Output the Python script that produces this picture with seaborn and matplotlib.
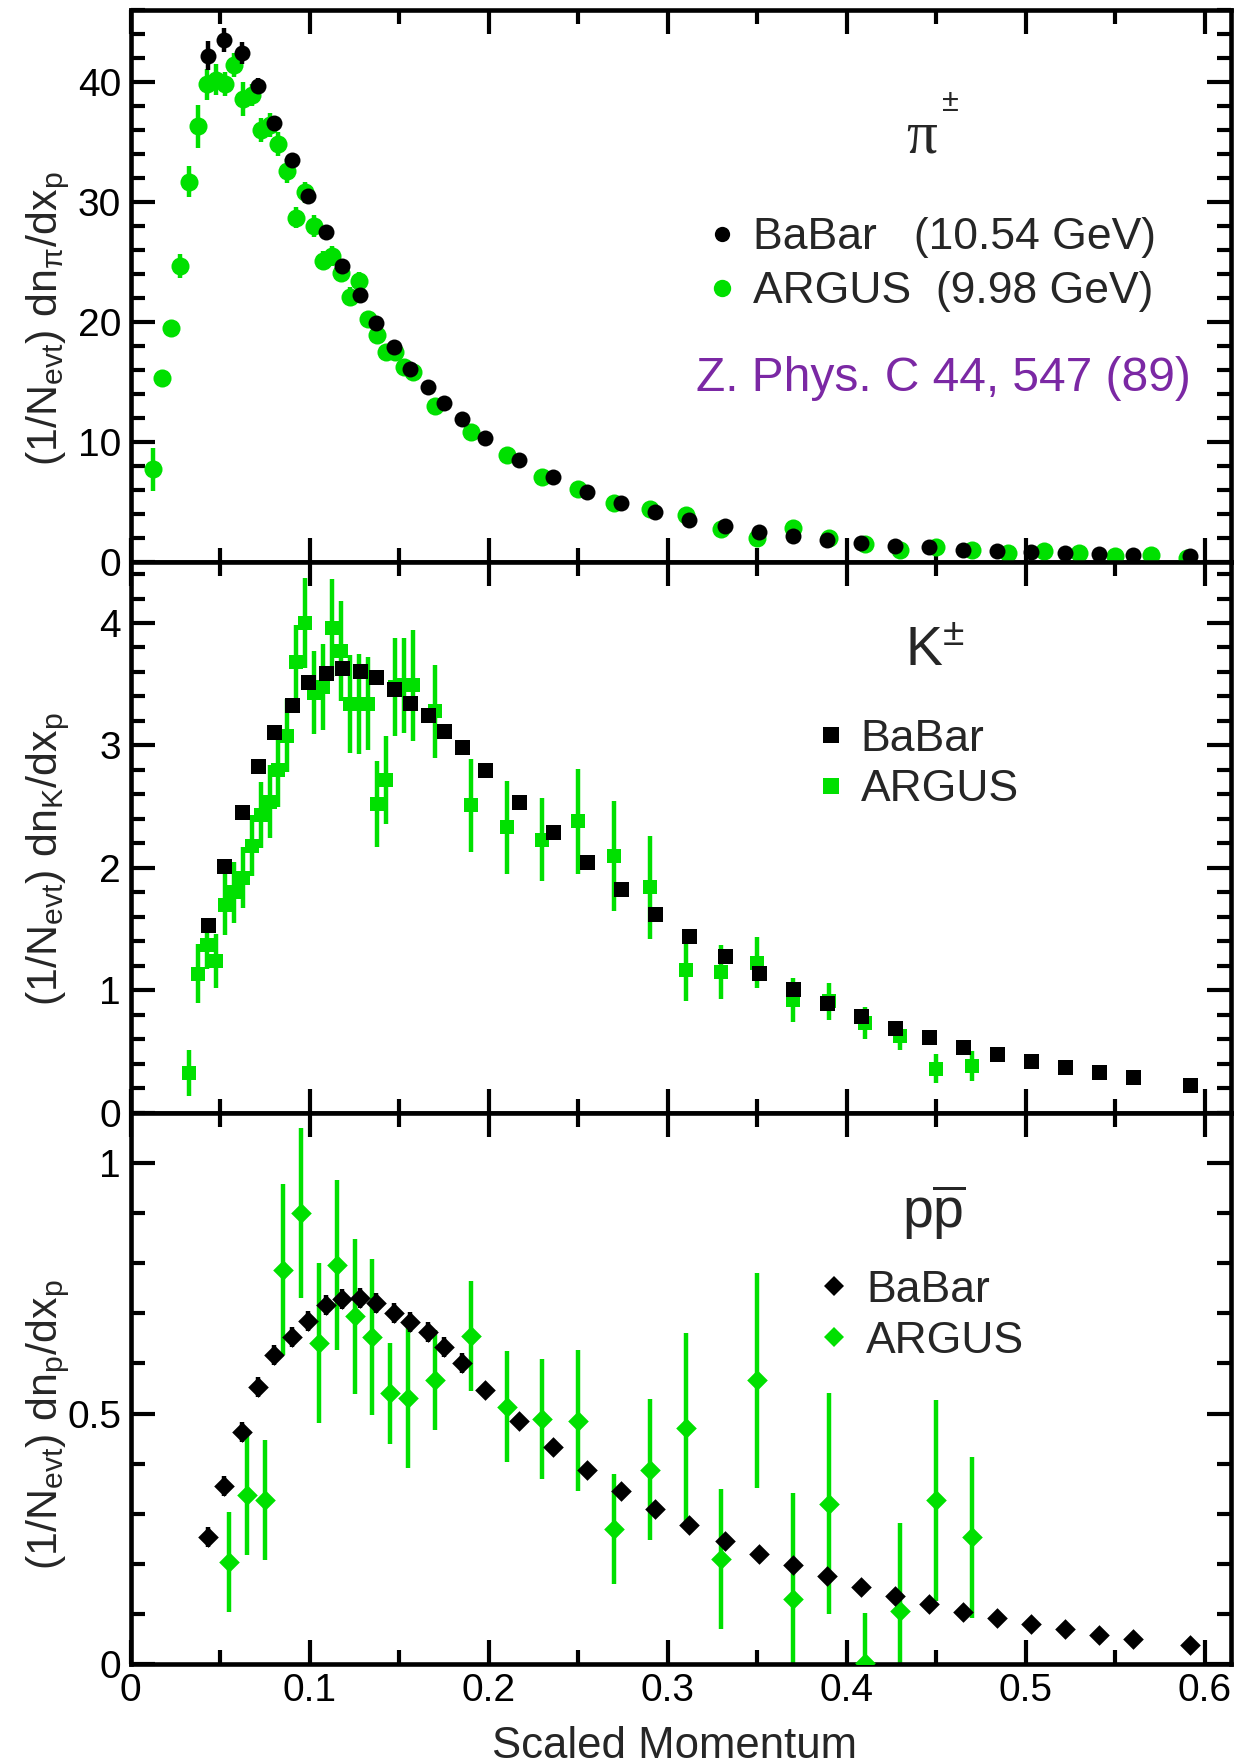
import matplotlib
matplotlib.use("Agg")
import matplotlib.pyplot as plt
import seaborn as sns
import numpy as np
import pandas as pd
from matplotlib.lines import Line2D
from matplotlib.ticker import MultipleLocator, FuncFormatter

# ---------------- data ----------------
x_babar = [0.043, 0.052, 0.062, 0.071, 0.080, 0.090, 0.099, 0.109, 0.118, 0.128,
           0.137, 0.147, 0.156, 0.166, 0.175, 0.185, 0.198, 0.217, 0.236, 0.255,
           0.274, 0.293, 0.312, 0.332, 0.351, 0.370, 0.389, 0.408, 0.427, 0.446,
           0.465, 0.484, 0.503, 0.522, 0.541, 0.560, 0.592]

pi_babar = [42.2, 43.5, 42.4, 39.7, 36.6, 33.5, 30.5, 27.5, 24.7, 22.2,
            19.9, 17.9, 16.1, 14.6, 13.2, 11.9, 10.3, 8.5, 7.05, 5.85,
            4.9, 4.15, 3.5, 2.95, 2.5, 2.15, 1.8, 1.55, 1.35, 1.2,
            1.0, 0.9, 0.8, 0.72, 0.65, 0.58, 0.45]
pi_babar_err = [1.2, 1.0, 0.9, 0.6, 0.4, 0.3, 0.3, 0.25, 0.2, 0.2,
                0.2, 0.15, 0.15, 0.15, 0.1, 0.1, 0.1, 0.1, 0.1, 0.1,
                0.1, 0.1, 0.1, 0.1, 0.1, 0.1, 0.1, 0.1, 0.1, 0.1,
                0.1, 0.1, 0.1, 0.1, 0.1, 0.1, 0.1]

k_babar = [1.53, 2.015, 2.46, 2.83, 3.11, 3.33, 3.52, 3.59, 3.63, 3.61,
           3.56, 3.46, 3.35, 3.25, 3.12, 2.99, 2.80, 2.54, 2.29, 2.05,
           1.83, 1.62, 1.44, 1.28, 1.14, 1.01, 0.90, 0.79, 0.69, 0.62,
           0.54, 0.48, 0.42, 0.37, 0.33, 0.29, 0.23]
k_babar_err = [0.04] * 37

p_babar = [0.253, 0.356, 0.463, 0.552, 0.616, 0.653, 0.684, 0.716, 0.729, 0.731,
           0.720, 0.701, 0.683, 0.663, 0.633, 0.600, 0.546, 0.486, 0.434, 0.387,
           0.346, 0.310, 0.277, 0.245, 0.220, 0.198, 0.175, 0.154, 0.137, 0.120,
           0.105, 0.093, 0.081, 0.070, 0.059, 0.051, 0.039]
p_babar_err = [0.02] * 16 + [0.01] * 21

x_argus_pi = [0.0125, 0.0175, 0.0225, 0.0275, 0.0325, 0.0375, 0.0425, 0.0475, 0.0525, 0.0575,
              0.0625, 0.0675, 0.0725, 0.0775, 0.0825, 0.0875, 0.0925, 0.0975, 0.1025, 0.1075,
              0.1125, 0.1175, 0.1225, 0.1275, 0.1325, 0.1375, 0.1425, 0.1475, 0.1525, 0.1575,
              0.17, 0.19, 0.21, 0.23, 0.25, 0.27, 0.29, 0.31, 0.33, 0.35,
              0.37, 0.39, 0.41, 0.43, 0.45, 0.47, 0.49, 0.51, 0.53, 0.55, 0.57, 0.59]
pi_argus = [7.7, 15.3, 19.5, 24.7, 31.7, 36.3, 39.8, 40.2, 39.8, 41.4,
            38.6, 38.9, 36.0, 36.4, 34.8, 32.6, 28.7, 30.8, 28.0, 25.1,
            25.5, 24.1, 22.1, 23.4, 20.2, 18.9, 17.5, 17.5, 16.2, 15.8,
            13.0, 10.8, 8.9, 7.1, 6.06, 4.9, 4.4, 3.9, 2.7, 1.95,
            2.8, 1.97, 1.45, 1.0, 1.27, 0.97, 0.76, 0.9, 0.7, 0.45, 0.55, 0.3]
pi_argus_err = [1.8, 0.4, 0.5, 1.0, 1.3, 1.8, 1.3, 1.3, 1.0, 1.0,
                1.4, 0.9, 1.0, 1.0, 1.0, 1.0, 0.9, 0.9, 0.9, 0.8,
                0.8, 0.8, 0.8, 0.8, 0.6, 0.6, 0.6, 0.6, 0.5, 0.5,
                0.4, 0.4, 0.3, 0.3, 0.3, 0.3, 0.3, 0.3, 0.3, 0.3,
                0.3, 0.2, 0.2, 0.2, 0.2, 0.2, 0.2, 0.2, 0.2, 0.2, 0.2, 0.2]

x_argus_k = [0.0325, 0.0375, 0.0425, 0.0475, 0.0525, 0.0575, 0.0625, 0.0675, 0.0725, 0.0775,
             0.0825, 0.0875, 0.0925, 0.0975, 0.1025, 0.1075, 0.1125, 0.1175, 0.1225, 0.1275,
             0.1325, 0.1375, 0.1425, 0.1475, 0.1525, 0.1575,
             0.17, 0.19, 0.21, 0.23, 0.25, 0.27, 0.29, 0.31, 0.33, 0.35,
             0.37, 0.39, 0.41, 0.43, 0.45, 0.47]
k_argus = [0.326, 1.134, 1.37, 1.24, 1.70, 1.80, 1.92, 2.18, 2.43, 2.54,
           2.80, 3.08, 3.68, 4.00, 3.43, 3.48, 3.96, 3.77, 3.34, 3.34,
           3.34, 2.52, 2.72, 3.48, 3.49, 3.49,
           3.28, 2.51, 2.33, 2.23, 2.38, 2.10, 1.84, 1.165, 1.15, 1.225,
           0.92, 0.91, 0.73, 0.63, 0.36, 0.38]
k_argus_err = [0.19, 0.24, 0.20, 0.22, 0.25, 0.25, 0.25, 0.25, 0.27, 0.30,
               0.30, 0.30, 0.30, 0.37, 0.34, 0.35, 0.40, 0.41, 0.40, 0.41,
               0.38, 0.35, 0.36, 0.40, 0.39, 0.45,
               0.38, 0.38, 0.38, 0.34, 0.43, 0.45, 0.42, 0.25, 0.22, 0.21,
               0.18, 0.15, 0.13, 0.12, 0.12, 0.12]

x_argus_p = [0.055, 0.065, 0.075, 0.085, 0.095, 0.105, 0.115, 0.125, 0.135, 0.145,
             0.155, 0.17, 0.19, 0.21, 0.23, 0.25, 0.27, 0.29, 0.31, 0.33,
             0.35, 0.37, 0.39, 0.41, 0.43, 0.45, 0.47]
p_argus = [0.204, 0.338, 0.328, 0.787, 0.900, 0.641, 0.796, 0.694, 0.653, 0.540,
           0.531, 0.567, 0.655, 0.514, 0.489, 0.486, 0.270, 0.388, 0.471, 0.210,
           0.566, 0.131, 0.320, 0.003, 0.106, 0.327, 0.253]
p_argus_err = [0.10, 0.12, 0.12, 0.17, 0.17, 0.16, 0.17, 0.155, 0.156, 0.10,
               0.14, 0.10, 0.11, 0.11, 0.12, 0.14, 0.11, 0.14, 0.19, 0.14,
               0.215, 0.21, 0.22, 0.10, 0.175, 0.20, 0.16]

x_ticks = [0, 0.1, 0.2, 0.3, 0.4, 0.5, 0.6]
legend_labels_pi = ["BaBar   (10.54 GeV)", "ARGUS  (9.98 GeV)"]
legend_labels = ["BaBar", "ARGUS"]
reference_text = "Z. Phys. C 44, 547 (89)"

# ---------------- style ----------------
sns.set_theme(style="ticks")
plt.rcParams['font.family'] = ['Liberation Sans', 'DejaVu Sans']
plt.rcParams['mathtext.default'] = 'regular'

GREEN = '#00e000'
BLACK = '#000000'
PURPLE = '#7b28a4'
TICK_FS = 28
LEG_FS = 32

fig = plt.figure(figsize=(12.6, 17.61), dpi=100)
left, width = 0.1038, 0.8734
ax1 = fig.add_axes([left, 0.68098, width, 0.31334])
ax2 = fig.add_axes([left, 0.36814, width, 0.31284], sharex=ax1)
ax3 = fig.add_axes([left, 0.05497, width, 0.31317], sharex=ax1)


def panel(ax, xb, yb, eb, xa, ya, ea, marker, s_b, s_a):
    dfa = pd.DataFrame({'x': xa, 'y': ya})
    dfb = pd.DataFrame({'x': xb, 'y': yb})
    ax.errorbar(xa, ya, yerr=ea, fmt='none', ecolor=GREEN, elinewidth=3.2,
                capsize=0, zorder=2)
    sns.scatterplot(data=dfa, x='x', y='y', ax=ax, marker=marker, s=s_a,
                    color=GREEN, linewidth=0, zorder=3, legend=False)
    ax.errorbar(xb, yb, yerr=eb, fmt='none', ecolor=BLACK, elinewidth=3.2,
                capsize=0, zorder=4)
    sns.scatterplot(data=dfb, x='x', y='y', ax=ax, marker=marker, s=s_b,
                    color=BLACK, linewidth=0, zorder=5, legend=False)


panel(ax1, x_babar, pi_babar, pi_babar_err, x_argus_pi, pi_argus, pi_argus_err,
      'o', 11.5 ** 2, 13.0 ** 2)
panel(ax2, x_babar, k_babar, k_babar_err, x_argus_k, k_argus, k_argus_err,
      's', 10.8 ** 2, 10.5 ** 2)
panel(ax3, x_babar, p_babar, p_babar_err, x_argus_p, p_argus, p_argus_err,
      'D', 10.5 ** 2, 10.5 ** 2)

fmt = FuncFormatter(lambda v, p: '%g' % v)
for ax, (ymax, major, minor) in zip([ax1, ax2, ax3],
                                    [(46.0, 10, 2), (4.5, 1, 0.2), (1.10, 0.5, 0.1)]):
    ax.set_xlim(0, 0.6148)
    ax.set_ylim(0, ymax)
    ax.xaxis.set_major_locator(MultipleLocator(0.1))
    ax.xaxis.set_minor_locator(MultipleLocator(0.05))
    ax.yaxis.set_major_locator(MultipleLocator(major))
    ax.yaxis.set_minor_locator(MultipleLocator(minor))
    ax.xaxis.set_major_formatter(fmt)
    ax.yaxis.set_major_formatter(fmt)
    ax.tick_params(which='both', direction='in', top=True, right=True,
                   width=3.0, colors='black')
    ax.tick_params(which='major', length=17, labelsize=TICK_FS, pad=7)
    ax.tick_params(axis='x', which='major', pad=6)
    ax.tick_params(which='minor', length=10)
    for sp in ax.spines.values():
        sp.set_linewidth(3.3)
        sp.set_color('black')
    ax.set_xlabel('')
    ax.set_ylabel('')
    ax.set_facecolor('white')

for ax in (ax1, ax2):
    plt.setp(ax.get_xticklabels(), visible=False)

ax3.set_xticks(x_ticks)
ax3.set_xlabel('Scaled Momentum', fontsize=31.5)
ax3.xaxis.set_label_coords(0.4945, -0.112)

YL_FS = 31
ax1.set_ylabel(r'(1/N$_{evt}$) dn$_{π}$/dx$_{p}$', fontsize=YL_FS)
ax2.set_ylabel(r'(1/N$_{evt}$) dn$_{K}$/dx$_{p}$', fontsize=YL_FS)
ax3.set_ylabel(r'(1/N$_{evt}$) dn$_{p}$/dx$_{p}$', fontsize=YL_FS)
ax1.yaxis.set_label_coords(-0.053, 0.44)
ax2.yaxis.set_label_coords(-0.053, 0.46)
ax3.yaxis.set_label_coords(-0.053, 0.435)

# particle labels
ax1.text(0.719, 0.768, 'π', transform=ax1.transAxes, fontsize=44,
         family=['Liberation Serif', 'DejaVu Serif'], ha='center', va='center')
ax1.text(0.745, 0.832, '±', transform=ax1.transAxes, fontsize=22,
         ha='center', va='center')
ax2.text(0.731, 0.836, r'K$^{\pm}$', transform=ax2.transAxes, fontsize=40,
         ha='center', va='center')
ax3.text(0.73, 0.82, r'p$\overline{p}$', transform=ax3.transAxes, fontsize=40,
         ha='center', va='center')

ax1.text(0.9637, 0.333, reference_text, transform=ax1.transAxes, fontsize=34.5,
         color=PURPLE, ha='right', va='center')


def make_handles(marker, ms_b, ms_a):
    return [Line2D([], [], ls='none', marker=marker, color=BLACK, markersize=ms_b, markeredgewidth=0),
            Line2D([], [], ls='none', marker=marker, color=GREEN, markersize=ms_a, markeredgewidth=0)]


ax1.legend(make_handles('o', 11, 12.5), legend_labels_pi, loc='center left',
           bbox_to_anchor=(0.5171, 0.538), frameon=False, fontsize=LEG_FS,
           handlelength=1.0, handletextpad=0.2, labelspacing=0.29, borderpad=0,
           borderaxespad=0)
ax2.legend(make_handles('s', 11, 11), legend_labels, loc='center left',
           bbox_to_anchor=(0.6157, 0.632), frameon=False, fontsize=LEG_FS,
           handlelength=1.0, handletextpad=0.18, labelspacing=0.22, borderpad=0,
           borderaxespad=0)
ax3.legend(make_handles('D', 10.5, 10.5), legend_labels, loc='center left',
           bbox_to_anchor=(0.6185, 0.632), frameon=False, fontsize=LEG_FS,
           handlelength=1.0, handletextpad=0.23, labelspacing=0.22, borderpad=0,
           borderaxespad=0)

fig.patch.set_facecolor('white')
fig.savefig('out.png', dpi=100, facecolor='white')
